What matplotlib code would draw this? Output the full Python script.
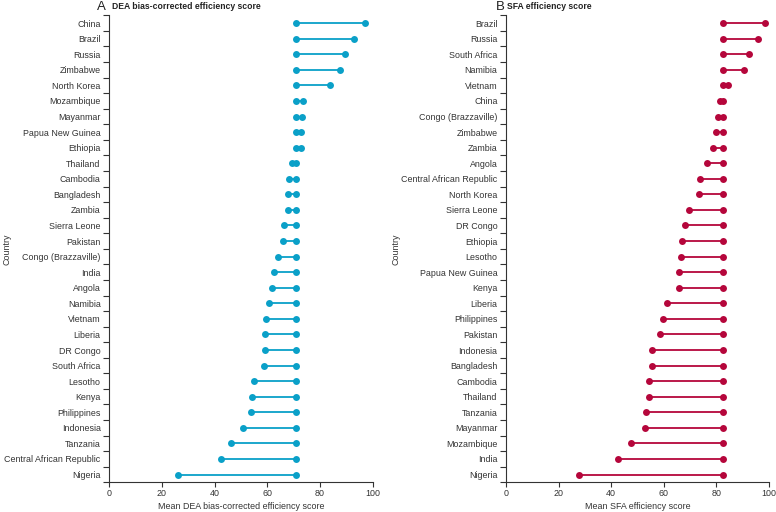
import numpy as np
import matplotlib
matplotlib.use("Agg")
import matplotlib.pyplot as plt
from matplotlib.ticker import FixedLocator

plt.rcParams['font.family'] = ['Liberation Sans', 'DejaVu Sans']

# panel A - DEA bias-corrected efficiency score
dea_countries = ['China', 'Brazil', 'Russia', 'Zimbabwe', 'North Korea', 'Mozambique',
                 'Mayanmar', 'Papua New Guinea', 'Ethiopia', 'Thailand', 'Cambodia',
                 'Bangladesh', 'Zambia', 'Sierra Leone', 'Pakistan', 'Congo (Brazzaville)',
                 'India', 'Angola', 'Namibia', 'Vietnam', 'Liberia', 'DR Congo',
                 'South Africa', 'Lesotho', 'Kenya', 'Philippines', 'Indonesia',
                 'Tanzania', 'Central African Republic', 'Nigeria']
dea_scores = [97.0, 92.9, 89.6, 87.6, 83.6, 73.7, 73.3, 72.9, 72.7, 69.3, 68.2,
              68.0, 67.7, 66.5, 65.9, 64.1, 62.6, 61.6, 60.6, 59.5, 59.3, 59.3,
              58.6, 55.0, 54.2, 53.9, 50.9, 46.1, 42.4, 26.3]
dea_mean = 70.8

# panel B - SFA efficiency score
sfa_countries = ['Brazil', 'Russia', 'South Africa', 'Namibia', 'Vietnam', 'China',
                 'Congo (Brazzaville)', 'Zimbabwe', 'Zambia', 'Angola',
                 'Central African Republic', 'North Korea', 'Sierra Leone', 'DR Congo',
                 'Ethiopia', 'Lesotho', 'Papua New Guinea', 'Kenya', 'Liberia',
                 'Philippines', 'Pakistan', 'Indonesia', 'Bangladesh', 'Cambodia',
                 'Thailand', 'Tanzania', 'Mayanmar', 'Mozambique', 'India', 'Nigeria']
sfa_scores = [98.5, 95.7, 92.5, 90.6, 84.3, 81.3, 80.5, 79.8, 78.6, 76.4, 73.7,
              73.5, 69.4, 67.9, 66.8, 66.6, 65.9, 65.6, 61.1, 59.8, 58.5, 55.7,
              55.6, 54.4, 54.4, 53.4, 52.8, 47.6, 42.5, 27.8]
sfa_mean = 82.6

xticks = [0, 20, 40, 60, 80, 100]
fs = 6.4
grey = '#333333'


def dumbbell(ax, countries, scores, mean, color, xlabel):
    n = len(countries)
    y = np.arange(n)
    ax.hlines(y, mean, scores, color=color, lw=1.3, zorder=2)
    ax.plot([mean] * n, y, 'o', color=color, ms=5, mec='none', zorder=3)
    ax.plot(scores, y, 'o', color=color, ms=5, mec='none', zorder=3)
    ax.set_ylim(n - 0.5, -0.5)
    ax.set_xlim(0, 100)
    ax.set_yticks(y)
    ax.set_yticklabels(countries, fontsize=fs, color=grey)
    ax.yaxis.set_minor_locator(FixedLocator(np.arange(n + 1) - 0.5))
    ax.tick_params(axis='y', which='major', length=0, pad=6)
    ax.tick_params(axis='y', which='minor', length=4, width=0.8, color=grey)
    ax.set_xticks(xticks)
    ax.tick_params(axis='x', length=3.5, width=0.8, pad=1.5, labelsize=fs,
                   color=grey, labelcolor=grey)
    for s in ['top', 'right']:
        ax.spines[s].set_visible(False)
    for s in ['left', 'bottom']:
        ax.spines[s].set_linewidth(0.8)
        ax.spines[s].set_color(grey)
    ax.set_xlabel(xlabel, fontsize=fs, color=grey, labelpad=3)
    ax.set_ylabel('Country', fontsize=fs, color=grey)


fig = plt.figure(figsize=(7.76, 5.12), dpi=100)
axA = fig.add_axes([0.1405, 0.058, 0.340, 0.912])
axB = fig.add_axes([0.652, 0.058, 0.339, 0.912])

dumbbell(axA, dea_countries, dea_scores, dea_mean, '#0aa0c8',
         'Mean DEA bias-corrected efficiency score')
dumbbell(axB, sfa_countries, sfa_scores, sfa_mean, '#b5063b',
         'Mean SFA efficiency score')
axA.yaxis.set_label_coords(-0.369, 0.5)
axB.yaxis.set_label_coords(-0.40, 0.5)

ty = 1 - 6.5 / 512
fig.text(97 / 776, ty, 'A', fontsize=9.5, color='#222222', va='center')
fig.text(112 / 776, ty, 'DEA bias-corrected efficiency score', fontsize=6.2,
         fontweight='bold', color='#222222', va='center')
fig.text(496 / 776, ty, 'B', fontsize=9.5, color='#222222', va='center')
fig.text(507 / 776, ty, 'SFA efficiency score', fontsize=6.2,
         fontweight='bold', color='#222222', va='center')

fig.savefig('out.png', dpi=100)
